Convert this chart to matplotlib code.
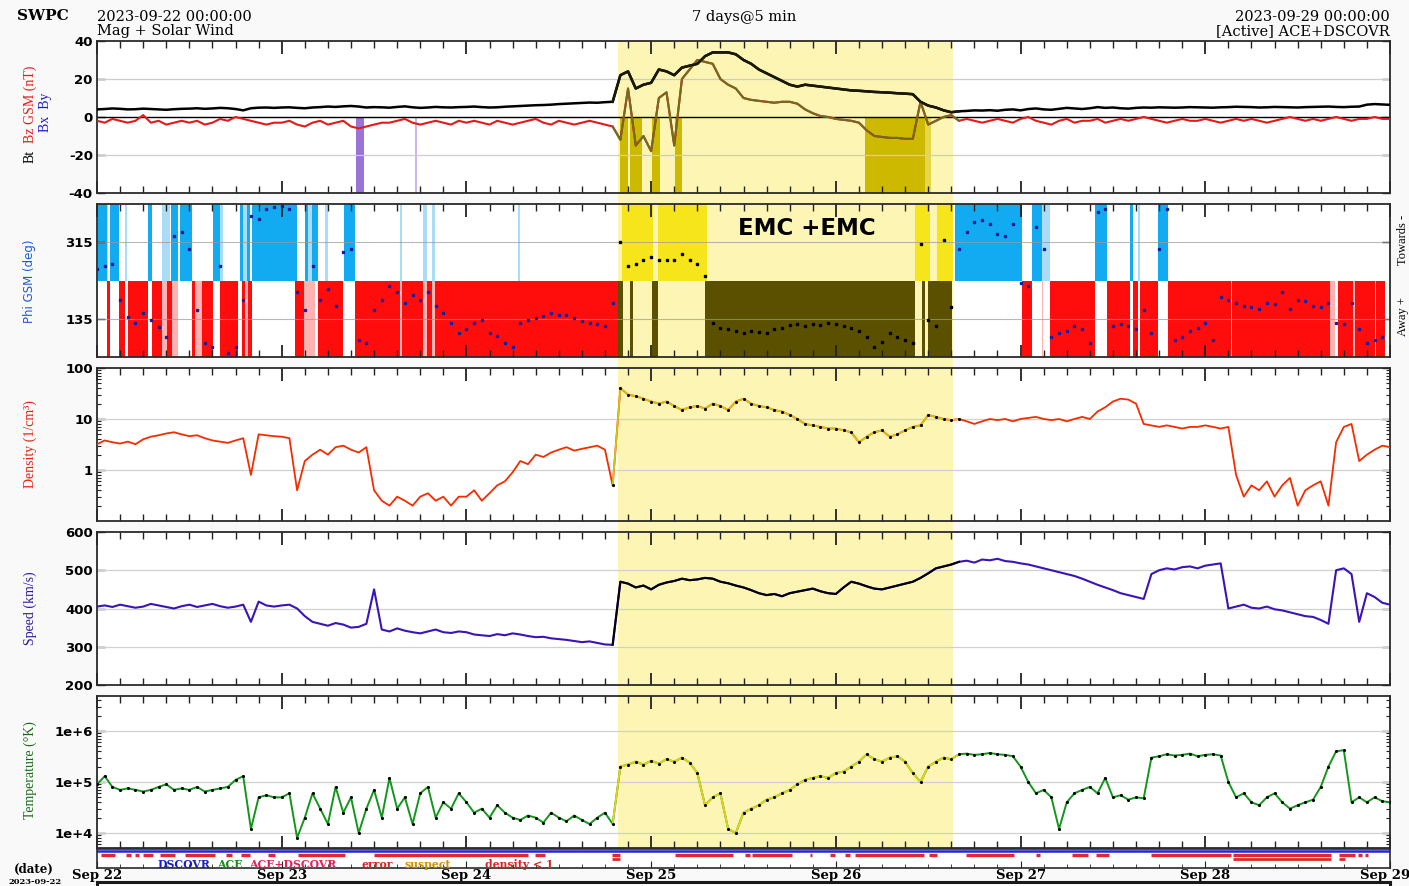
import numpy as np
import matplotlib

matplotlib.use("Agg")
import matplotlib.pyplot as plt
from matplotlib.patches import Rectangle
from matplotlib.ticker import MultipleLocator, LogLocator, NullFormatter
from matplotlib.transforms import blended_transform_factory, ScaledTranslation

# hours since 2023-09-22 00:00, hourly samples
DAY_LABELS = ["Sep 22", "Sep 23", "Sep 24", "Sep 25", "Sep 26", "Sep 27", "Sep 28", "Sep 29"]
EVENT = (67.7, 111.2)

BT = [
    4.0, 4.2, 4.5, 4.3, 4.0, 4.1, 4.4, 4.2, 4.0, 3.8, 4.1, 4.3, 4.4, 4.6, 4.3, 4.5, 4.8, 4.6, 4.2, 3.5, 4.6, 4.9, 5.0, 4.8,
    5.0, 5.1, 4.8, 4.6, 5.0, 5.2, 5.5, 5.3, 5.6, 5.8, 5.5, 5.0, 5.2, 5.1, 4.9, 5.3, 5.6, 5.1, 4.8, 5.0, 5.3, 5.1, 5.0, 5.2,
    5.3, 5.5, 5.2, 5.0, 5.1, 5.4, 5.6, 5.8, 6.0, 6.2, 6.3, 6.5, 6.8, 7.0, 7.2, 7.4, 7.6, 7.5, 7.8, 8.0,
    22, 24, 15, 17, 18, 25, 24, 22, 26, 27, 28, 32, 34, 34, 34, 33, 30, 28, 25, 23, 21, 19, 17, 16, 17, 16.5,
    16, 15.5, 15, 14.5, 14, 13.8, 13.5, 13.2, 13, 12.8, 12.5, 12.3, 12, 8, 6, 5, 3.5, 2.5,
    3.0, 3.2, 3.5, 3.4, 3.6, 3.3, 3.8, 4.0, 3.5, 4.2, 4.5, 4.0, 3.8, 4.3, 4.8, 4.5, 4.2, 4.6, 5.2, 4.8,
    5.0, 4.6, 4.4, 4.8, 5.0, 4.9, 5.1, 5.0, 4.9, 5.0, 5.2, 5.1, 5.0, 4.9, 5.1, 5.2, 5.4, 5.3, 5.2, 5.0,
    5.1, 5.3, 5.2, 5.1, 5.0, 5.2, 5.3, 5.4, 5.5, 5.3, 5.2, 5.4, 5.5, 6.5, 6.8, 6.6, 6.4,
]
BZ = [
    -2, -3, -1, -2, -3, -2, 1, -3, -2, -4, -3, -2, -3, -2, -4, -3, -1, -2, 0, -1, -2, -3, -4, -3,
    -3, -2, -4, -5, -3, -2, -4, -3, -2, -5, -6, -5, -4, -3, -3, -2, -1, -3, -4, -3, -2, -3, -4, -2,
    -3, -2, -3, -4, -2, -3, -4, -3, -2, -1, -3, -4, -2, -3, -4, -3, -2, -3, -4, -5,
    -12, 15, -15, -10, -18, 10, 13, -15, 20, 25, 30, 29, 28, 20, 17, 15, 10, 9, 8.5, 8, 7.5, 8,
    8, 7, 4, 2, 0.5, 0, -1, -1.5, -2, -3, -7, -10, -10.5, -11, -11, -11.5, -11.5, 8, -4, -2, 0, 1,
    -2, -1, -2, -3, -2, -1, -2, -3, -1, 0, -2, -3, -4, -2, -1, -3, -2, -2, -1, -3,
    -2, -1, -2, -1, 0, -1, -2, -3, -2, -1, -2, -2, -1, -2, -3, -2, -1, -2, -1, -2,
    -3, -2, -1, 0, -1, -2, -1, -2, -1, 0, -1, -2, -1, -1, 0, -1, -1,
]
PHI = [
    251, 258, 265, 180, 140, 126, 149, 133, 116, 92, 330, 339, 298, 156, 78, 69, 258, 54, 69, 180, 377, 370, 393, 397,
    400, 393, 197, 156, 258, 180, 204, 166, 291, 298, 85, 78, 156, 180, 211, 197, 173, 190, 180, 197, 166, 149, 126, 102,
    110, 126, 133, 102, 95, 78, 69, 126, 133, 137, 141, 149, 145, 145, 137, 129, 126, 122, 118, 173,
    315, 258, 265, 273, 280, 273, 273, 273, 287, 273, 265, 235, 126, 114, 110, 106, 102, 106, 104, 102, 110, 114,
    120, 122, 118, 122, 120, 124, 122, 118, 114, 106, 92, 69, 80, 102, 92, 85, 78, 310, 133, 118, 320, 163,
    298, 339, 362, 367, 358, 334, 329, 358, 220, 211, 350, 298, 92, 102, 106, 118, 110, 78, 386, 393,
    118, 122, 118, 110, 156, 102, 298, 393, 85, 92, 106, 114, 126, 85, 187, 180, 173, 166, 163, 159,
    173, 169, 197, 159, 180, 176, 166, 163, 173, 126, 122, 173, 110, 78, 85, 92,
]
DENSITY = [
    3.2, 3.8, 3.5, 3.3, 3.6, 3.2, 4.0, 4.5, 4.8, 5.2, 5.5, 5.0, 4.6, 4.8, 4.2, 3.8, 3.6, 3.4, 3.8, 4.2, 0.8, 5.0, 4.8, 4.6,
    4.5, 4.2, 0.4, 1.5, 2.0, 2.5, 2.0, 2.8, 3.0, 2.5, 2.2, 2.8, 0.4, 0.25, 0.2, 0.3, 0.25, 0.2, 0.3, 0.35, 0.25, 0.3, 0.2, 0.3,
    0.3, 0.4, 0.25, 0.35, 0.5, 0.6, 0.9, 1.5, 1.3, 2.0, 1.8, 2.2, 2.5, 2.8, 2.4, 2.6, 2.8, 3.0, 2.5, 0.5,
    40, 30, 28, 25, 22, 20, 22, 18, 15, 17, 18, 16, 20, 18, 15, 22, 25, 20, 18, 17, 15, 14,
    12, 10, 8, 7.5, 7, 6.5, 6.5, 6, 5.5, 3.5, 4.5, 5.5, 6, 4.5, 5, 6, 7, 7.5, 12, 11, 10, 9.5,
    10, 9, 8, 9, 10, 9.5, 10, 9, 10, 10.5, 11, 10, 9.5, 10, 9, 10, 11, 10, 14, 17,
    22, 25, 24, 20, 8, 7.5, 7, 7.5, 7, 6.5, 7, 7, 7.5, 7, 6.5, 7, 0.8, 0.3, 0.5, 0.4,
    0.6, 0.3, 0.5, 0.7, 0.2, 0.4, 0.5, 0.6, 0.2, 3.5, 7, 8, 1.5, 2, 2.5, 3, 2.8,
]
SPEED = [
    405, 408, 404, 410, 406, 402, 405, 412, 408, 404, 400, 406, 410, 404, 408, 412, 406, 402, 405, 410, 365, 418, 408, 405,
    408, 410, 400, 380, 365, 360, 355, 362, 358, 350, 352, 360, 450, 345, 340, 348, 342, 338, 335, 340, 345, 338, 336, 340,
    338, 332, 330, 328, 333, 330, 335, 332, 328, 325, 326, 322, 320, 318, 315, 312, 314, 310, 306, 305,
    470, 465, 455, 460, 450, 462, 468, 472, 478, 474, 476, 480, 478, 470, 466, 460, 455, 448, 440, 435, 438, 432,
    440, 444, 448, 452, 445, 440, 438, 455, 470, 465, 458, 452, 450, 455, 460, 465, 470, 480, 492, 505, 510, 515,
    522, 525, 520, 528, 526, 530, 524, 522, 518, 515, 510, 505, 500, 495, 490, 485, 478, 470, 462, 455,
    448, 440, 435, 430, 425, 490, 500, 505, 502, 508, 510, 505, 512, 515, 518, 400, 405, 410, 402, 400,
    405, 398, 395, 390, 385, 380, 378, 370, 360, 500, 505, 490, 365, 440, 430, 415, 410,
]
TEMPERATURE = [
    9e4, 1.3e5, 8e4, 7e4, 7.5e4, 7e4, 6.5e4, 7e4, 8e4, 9e4, 7e4, 7.5e4, 7e4, 8e4, 6.5e4, 7e4, 7.5e4, 8e4, 1.1e5, 1.3e5,
    1.2e4, 5e4, 5.5e4, 5e4,
    5e4, 6e4, 8e3, 2e4, 6e4, 3e4, 1.5e4, 8e4, 2.5e4, 5e4, 1e4, 3e4, 7e4, 2e4, 1.2e5, 3e4, 5e4, 1.5e4, 6e4, 8e4,
    2e4, 4e4, 3e4, 6e4,
    4e4, 2.5e4, 3e4, 2e4, 3.5e4, 2.5e4, 2e4, 1.8e4, 2.2e4, 2e4, 1.6e4, 2.5e4, 2e4, 1.7e4, 2.2e4, 1.8e4, 1.5e4, 2e4,
    2.5e4, 1.5e4,
    2e5, 2.2e5, 2.5e5, 2.2e5, 2.6e5, 2.3e5, 2.8e5, 2.5e5, 3e5, 2.4e5, 1.5e5, 3.5e4, 5e4, 6e4, 1.2e4, 1e4, 2.5e4,
    3e4, 3.5e4, 4.5e4, 5e4, 6e4, 7e4, 9e4, 1.1e5, 1.2e5, 1.3e5, 1.2e5, 1.5e5, 1.6e5, 2e5, 2.5e5, 3.5e5, 2.8e5,
    2.5e5, 3e5, 3.2e5, 2.5e5, 1.5e5, 1e5, 2e5, 2.5e5, 3e5, 2.8e5,
    3.5e5, 3.6e5, 3.4e5, 3.5e5, 3.7e5, 3.5e5, 3.4e5, 3.2e5, 2e5, 1e5, 6e4, 7e4, 5e4, 1.2e4, 4e4, 6e4, 7e4, 8e4,
    6e4, 1.2e5, 5e4, 5.5e4, 4.5e4, 5e4, 4.8e4, 3e5, 3.2e5, 3.5e5, 3.3e5, 3.4e5, 3.6e5, 3.2e5, 3.4e5, 3.5e5,
    3.3e5, 1e5, 5e4, 6e4, 4e4, 3.5e4, 5e4, 6e4, 4e4, 3e4, 3.5e4, 4e4, 4.5e4, 8e4, 2e5, 4e5, 4.2e5, 4e4, 5e4,
    4e4, 5e4, 4.2e4, 4e4,
]

# interplanetary field sector bars (hours): towards / away, solid and pale
TOWARDS = [(0.1, 1.3), (1.7, 2.9), (6.6, 7.2), (9.6, 10.5), (10.8, 12.3), (15.1, 16.0), (18.6, 19.0), (19.5, 19.9),
           (20.1, 26.0), (27.0, 27.4), (27.9, 28.7), (32.1, 33.5), (68.2, 72.2), (72.9, 79.3), (106.3, 108.2),
           (109.1, 111.2), (111.5, 120.2), (121.5, 122.8), (129.7, 131.2), (134.2, 134.6), (137.9, 139.2)]
TOWARDS_PALE = [(1.3, 1.45), (3.6, 3.9), (8.5, 9.5), (16.0, 16.4), (19.0, 19.5), (27.4, 27.9), (29.6, 30.0),
                (39.4, 39.6), (42.4, 42.9), (43.5, 43.9), (54.7, 55.0), (122.8, 123.8), (135.3, 135.5)]
AWAY = [(1.3, 1.7), (2.9, 3.6), (4.0, 6.6), (7.2, 8.5), (9.1, 9.7), (12.3, 12.7), (13.6, 15.1), (16.0, 18.3),
        (18.8, 19.2), (19.6, 20.1), (25.7, 26.9), (28.7, 32.0), (33.5, 67.7), (67.7, 68.3), (69.3, 69.6),
        (72.1, 72.9), (79.0, 106.3), (107.2, 107.6), (108.0, 111.1), (120.2, 121.5), (123.8, 129.7),
        (131.2, 134.2), (134.6, 135.3), (135.5, 137.9), (139.2, 160.2), (161.2, 167.3)]
AWAY_PALE = [(8.5, 9.1), (9.7, 10.5), (12.7, 13.6), (19.2, 19.6), (26.9, 28.3), (39.4, 39.6), (42.4, 42.9),
             (43.5, 43.9), (122.8, 122.95), (147.3, 147.5), (160.2, 160.8), (163.2, 163.4), (166.0, 166.2)]

# strong southward Bz intervals
SOUTHWARD = [(33.6, 34.7), (67.9, 69.0), (69.3, 70.8), (72.1, 73.2), (75.1, 76.0), (99.8, 107.6)]
SOUTHWARD_PALE = [(41.3, 41.6), (107.6, 108.3)]

# data-quality flags in the source strip
FLAGGED = [(0.5, 2.3), (3.8, 4.4), (4.9, 5.5), (6.0, 7.3), (8.2, 10.1), (11.4, 15.3), (16.8, 17.5), (18.7, 19.9),
           (22.2, 23.1), (26.1, 32.2), (36.0, 56.0), (56.9, 58.2), (66.9, 68.0), (75.1, 82.6), (84.2, 84.8),
           (85.1, 90.3), (92.6, 92.9), (95.2, 95.9), (97.2, 97.8), (98.5, 107.5), (108.1, 109.1), (112.9, 119.1),
           (122.0, 122.5), (126.7, 128.8), (129.8, 131.5), (136.9, 147.3), (147.6, 160.3), (161.4, 163.5),
           (163.9, 164.3), (164.8, 165.2)]
FLAGGED_SECOND = [(66.9, 68.0), (147.6, 160.3), (161.4, 162.2)]

FIG_W, FIG_H = 1409, 886
YELLOW = "#fcf5b3"
SERIF = "DejaVu Serif"


def fx(px):
    return px / FIG_W


def fy(py):
    return 1 - py / FIG_H


def panel_rect(top, bottom):
    return [fx(97), fy(bottom), fx(1390) - fx(97), (bottom - top) / FIG_H]


def in_event(a, b):
    return EVENT[0] <= (a + b) / 2 <= EVENT[1]


def style_panel(ax, ticks, labels):
    ax.set_xlim(0, 168)
    ax.xaxis.set_major_locator(MultipleLocator(24))
    ax.xaxis.set_minor_locator(MultipleLocator(3))
    ax.tick_params(which="both", direction="in", top=True, right=True, labelbottom=False, color="#222222")
    ax.tick_params(axis="x", which="major", length=9, width=1.3)
    ax.tick_params(axis="x", which="minor", length=5, width=1.0)
    ax.tick_params(axis="y", which="major", length=6, width=1.0, pad=3)
    ax.tick_params(axis="y", which="minor", length=3, width=0.8)
    ax.set_yticks(ticks, labels, fontsize=9.5, fontweight="bold", family="DejaVu Sans")
    for spine in ax.spines.values():
        spine.set_linewidth(1.3)
        spine.set_color("#2a2a2a")
    ax.axvspan(*EVENT, color=YELLOW, lw=0, zorder=0.5)


def plot_split(ax, values, color, event_color, lw=1.3, dots=None, event_dots=None):
    values = np.asarray(values, dtype=float)
    hours = np.arange(len(values))
    inside = (hours >= 67) & (hours <= 112)
    ax.plot(hours, values, color=color, lw=lw, zorder=3)
    ax.plot(hours[inside], values[inside], color=event_color, lw=lw, zorder=3.1)
    if dots:
        ax.plot(hours[~inside], values[~inside], ls="none", marker=".", ms=2.5, color=dots, zorder=3.2)
    if event_dots:
        ax.plot(hours[inside], values[inside], ls="none", marker=".", ms=2.5, color=event_dots, zorder=3.2)


plt.rcParams["font.family"] = "DejaVu Sans"
fig = plt.figure(figsize=(FIG_W / 100, FIG_H / 100), dpi=100)
fig.patch.set_facecolor("#f9f9f9")

ax_b = fig.add_axes(panel_rect(41, 193))
ax_p = fig.add_axes(panel_rect(204, 357))
ax_n = fig.add_axes(panel_rect(368, 521))
ax_v = fig.add_axes(panel_rect(532, 685))
ax_t = fig.add_axes(panel_rect(696, 848))
ax_s = fig.add_axes(panel_rect(849, 868))
ax_next = fig.add_axes(panel_rect(882, 905))

# event band through the gaps between panels
band = Rectangle((EVENT[0], fy(848)), EVENT[1] - EVENT[0], fy(40) - fy(848), color=YELLOW, lw=0, zorder=-1,
                 transform=blended_transform_factory(ax_b.transData, fig.transFigure))
fig.add_artist(band)

# --- Bt / Bz ---
ax_b.set_ylim(-40, 40)
style_panel(ax_b, [-40, -20, 0, 20, 40], ["-40", "-20", "0", "20", "40"])
for a, b in SOUTHWARD:
    ax_b.axvspan(a, b, ymin=0, ymax=0.5, color="#cdb900" if in_event(a, b) else "#9a72d8", lw=0, zorder=1)
for a, b in SOUTHWARD_PALE:
    ax_b.axvspan(a, b, ymin=0, ymax=0.5, color="#e6d64a" if in_event(a, b) else "#cbb6ee", lw=0, zorder=1)
for level in (-20, 20):
    ax_b.axhline(level, color="#cccccc", lw=0.9, zorder=2)
ax_b.axhline(0, color="black", lw=1.0, zorder=2.5)
plot_split(ax_b, BZ, "#e41a1a", "#726a1e", lw=1.5)
plot_split(ax_b, BT, "black", "#1a1800", lw=1.8)

# --- Phi ---
ax_p.set_ylim(45, 405)
style_panel(ax_p, [135, 315], ["135", "315"])
for a, b in TOWARDS:
    ax_p.axvspan(a, b, ymin=0.5, ymax=1, color="#f6e51a" if in_event(a, b) else "#12aaf0", lw=0, zorder=1)
for a, b in TOWARDS_PALE:
    ax_p.axvspan(a, b, ymin=0.5, ymax=1, color="#aadcf6", lw=0, zorder=1.1)
for a, b in AWAY:
    ax_p.axvspan(a, b, ymin=0, ymax=0.5, color="#5a5000" if in_event(a, b) else "#ff0c0c", lw=0, zorder=1)
for a, b in AWAY_PALE:
    ax_p.axvspan(a, b, ymin=0, ymax=0.5, color="#ffb2b2", lw=0, zorder=1.1)
for level in (135, 315):
    ax_p.axhline(level, color="#9a9a9a", lw=0.8, alpha=0.7, zorder=2)
phi_hours = np.arange(len(PHI))
phi_event = (phi_hours >= EVENT[0]) & (phi_hours <= EVENT[1])
phi = np.asarray(PHI, dtype=float)
ax_p.plot(phi_hours[~phi_event], phi[~phi_event], ls="none", marker="s", ms=1.8, color="#1c1c9c", zorder=3)
ax_p.plot(phi_hours[phi_event], phi[phi_event], ls="none", marker="s", ms=1.8, color="black", zorder=3)
ax_p.text(0.549, 0.84, "EMC +EMC", transform=ax_p.transAxes, ha="center", va="center",
          fontsize=16.5, fontweight="bold", zorder=4)

# --- Density ---
ax_n.set_yscale("log")
ax_n.set_ylim(0.1, 100)
style_panel(ax_n, [1, 10, 100], ["1", "10", "100"])
ax_n.yaxis.set_minor_locator(LogLocator(subs=np.arange(2, 10)))
ax_n.yaxis.set_minor_formatter(NullFormatter())
for level in (1, 10):
    ax_n.axhline(level, color="#d0d0d0", lw=0.9, zorder=2)
plot_split(ax_n, DENSITY, "#f52c00", "#d2c21a", lw=1.3, event_dots="black")

# --- Speed ---
ax_v.set_ylim(200, 600)
style_panel(ax_v, [200, 300, 400, 500, 600], ["200", "300", "400", "500", "600"])
for level in (300, 400, 500):
    ax_v.axhline(level, color="#d0d0d0", lw=0.9, zorder=2)
plot_split(ax_v, SPEED, "#3a14b8", "black", lw=1.5)

# --- Temperature ---
ax_t.set_yscale("log")
ax_t.set_ylim(5080, 4.85e6)
style_panel(ax_t, [1e4, 1e5, 1e6], ["1e+4", "1e+5", "1e+6"])
ax_t.yaxis.set_minor_locator(LogLocator(subs=np.arange(2, 10)))
ax_t.yaxis.set_minor_formatter(NullFormatter())
for level in (1e4, 1e5, 1e6):
    ax_t.axhline(level, color="#d0d0d0", lw=0.9, zorder=2)
plot_split(ax_t, TEMPERATURE, "#14961c", "#e2d21e", lw=1.4, dots="black", event_dots="black")

# --- source / quality strip ---
ax_s.set_xlim(0, 168)
ax_s.set_ylim(0, 1)
ax_s.set_yticks([])
ax_s.axhline(0.88, color="#2424d8", lw=1.8)
ax_s.hlines([0.66] * len(FLAGGED), [a for a, _ in FLAGGED], [b for _, b in FLAGGED], color="#e02828", lw=2.4)
ax_s.hlines([0.5] * len(FLAGGED_SECOND), [a for a, _ in FLAGGED_SECOND], [b for _, b in FLAGGED_SECOND],
            color="#e02828", lw=2.0)
ax_s.xaxis.set_minor_locator(MultipleLocator(3))
ax_s.set_xticks(range(0, 169, 24), DAY_LABELS, fontsize=9.5, fontweight="bold", family=SERIF)
ax_s.tick_params(which="both", direction="in", pad=1, color="#222222")
ax_s.tick_params(which="major", length=5)
ax_s.tick_params(which="minor", length=3)
# keep the last date label inside the figure
last_label = ax_s.get_xticklabels()[-1]
last_label.set_transform(last_label.get_transform() + ScaledTranslation(-0.05, 0, fig.dpi_scale_trans))
for spine in ax_s.spines.values():
    spine.set_linewidth(1.2)
    spine.set_color("#2a2a2a")
for hour, label, color in [(7.9, "DSCOVR", "#1a1ad0"), (15.6, "ACE", "#138f13"), (19.7, "ACE+DSCOVR", "#e8205a"),
                           (34.4, "error", "#e02020"), (39.9, "suspect", "#d09000"), (50.4, "density < 1", "#e02020")]:
    ax_s.text(hour, 0.2, label, color=color, fontsize=7.8, fontweight="bold", family=SERIF, va="center", ha="left")

ax_next.set_xlim(0, 168)
ax_next.set_xticks([])
ax_next.set_yticks([])
for spine in ax_next.spines.values():
    spine.set_linewidth(2.2)
    spine.set_color("#1a1a1a")

# --- header ---
fig.text(fx(17), fy(16), "SWPC", fontsize=11, fontweight="bold", family=SERIF, va="center")
fig.text(fx(97), fy(17), "2023-09-22 00:00:00", fontsize=10.5, family=SERIF, va="center")
fig.text(fx(97), fy(31), "Mag + Solar Wind", fontsize=10.5, family=SERIF, va="center")
fig.text(fx(744), fy(17), "7 days@5 min", fontsize=10.5, family=SERIF, va="center", ha="center")
fig.text(fx(1390), fy(17), "2023-09-29 00:00:00", fontsize=10.5, family=SERIF, va="center", ha="right")
fig.text(fx(1390), fy(31), "[Active] ACE+DSCOVR", fontsize=10.5, family=SERIF, va="center", ha="right")

# --- axis labels ---
LABEL_FONT = "Liberation Serif"
fig.text(fx(30), fy(156), "Bt", rotation=90, fontsize=10, family=LABEL_FONT, ha="center", va="center")
fig.text(fx(30), fy(104), "Bz GSM (nT)", rotation=90, fontsize=10, family=LABEL_FONT, color="#e41a1a",
         ha="center", va="center")
fig.text(fx(46), fy(112), "Bx  By", rotation=90, fontsize=10, family=LABEL_FONT, color="#1a1ad0",
         ha="center", va="center")
fig.text(fx(30), fy(281), "Phi GSM (deg)", rotation=90, fontsize=8.5, family="DejaVu Sans", color="#1a5ad8",
         ha="center", va="center")
fig.text(fx(30), fy(444), "Density (1/cm³)", rotation=90, fontsize=10, family=LABEL_FONT, color="#e82010",
         ha="center", va="center")
fig.text(fx(30), fy(608), "Speed (km/s)", rotation=90, fontsize=10, family=LABEL_FONT, color="#2a1aa0",
         ha="center", va="center")
fig.text(fx(30), fy(770), "Temperature (°K)", rotation=90, fontsize=10, family=LABEL_FONT, color="#1a6a1a",
         ha="center", va="center")
fig.text(fx(1403), fy(240), "Towards -", rotation=90, fontsize=9, family=LABEL_FONT, ha="center", va="center")
fig.text(fx(1403), fy(316), "Away +", rotation=90, fontsize=9, family=LABEL_FONT, ha="center", va="center")
fig.text(fx(14), fy(869), "(date)", fontsize=8.5, fontweight="bold", family=SERIF, va="center")
fig.text(fx(8), fy(886), "2023-09-22", fontsize=6, fontweight="bold", family=SERIF, va="bottom")

fig.savefig("out.png", dpi=100, facecolor=fig.get_facecolor())
